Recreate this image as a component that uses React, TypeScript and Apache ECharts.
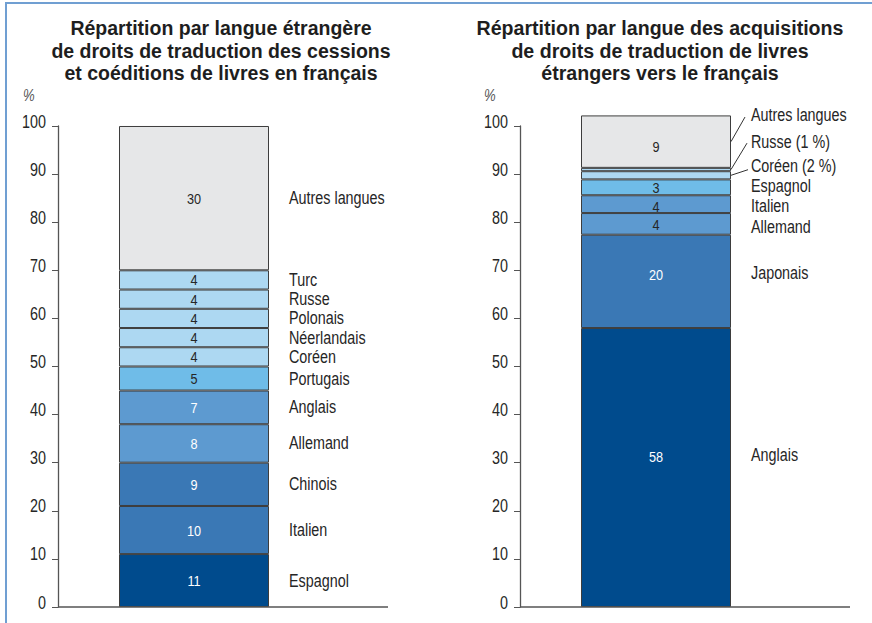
import React, { useEffect, useRef } from 'react';
import * as echarts from 'echarts';

// ---------- data ----------
const leftLanguages = ['Espagnol', 'Italien', 'Chinois', 'Allemand', 'Anglais', 'Portugais', 'Coréen', 'Néerlandais', 'Polonais', 'Russe', 'Turc', 'Autres langues'];
const leftHeights = [11, 10, 9, 8, 7, 5, 4, 4, 4, 4, 4, 30];
const leftValueLabels = ['11', '10', '9', '8', '7', '5', '4', '4', '4', '4', '4', '30'];

const rightLanguages = ['Anglais', 'Japonais', 'Allemand', 'Italien', 'Espagnol', 'Coréen (2 %)', 'Russe (1 %)', 'Autres langues'];
const rightHeights = [58, 19.4, 4.5, 3.7, 3.3, 1.7, 0.7, 10.9];
const rightValueLabels = ['58', '20', '4', '4', '3', '', '', '9'];

const yMin = 0;
const yMax = 100;
const yInterval = 10;
const yTickValues = [0, 10, 20, 30, 40, 50, 60, 70, 80, 90, 100];

const titleLines = [
  ['Répartition par langue étrangère', 'de droits de traduction des cessions', 'et coéditions de livres en français'],
  ['Répartition par langue des acquisitions', 'de droits de traduction de livres', 'étrangers vers le français'],
];

// ---------- styles ----------
const palette = ['#004b8d', '#3a78b5', '#5d9ad0', '#6fbce8', '#add8f2', '#e6e7e8'];
const leftShades = [0, 1, 1, 2, 2, 3, 4, 4, 4, 4, 4, 5];
const rightShades = [0, 1, 2, 2, 3, 4, 4, 5];
const leftWhiteText = [true, true, true, true, true, false, false, false, false, false, false, false];
const rightWhiteText = [true, true, false, false, false, false, false, false];
const leftNameDy = leftLanguages.map(() => 0);
const leftNumDy = leftLanguages.map(() => 0);
const rightNameDy = [-12.7, -8.5, 3, 2, -1.7, -9.6, -27.9, -26.6];
const rightNumDy = [-11, -6.5, 1, 2, 0, 0, 0, 5];
// leader lines for the crowded top labels of the right chart: [index, dx, dyFromLabelCenter]
const leaders: [number, number, number][] = [[5, 17, 4], [6, 16, 1.5], [7, 14, 2]];

const SANS = '"Liberation Sans", Arial, sans-serif';
const NARROW_SCALE = 0.82;
const TITLE_FONT = '"Liberation Sans", Arial, sans-serif';
const TEXT_COLOR = '#262626';
const gridLefts = [58, 520];
const gridTop = 126;
const gridHeight = 481;
const gridWidth = 272;
const baselineLength = 330;
const barWidth = 150;
const titleCenters = [221, 660];
const titleSizes = [19.5, 19.6];
const titleFirstCenterY = 28;
const titleLineStep = 22.5;
const percentX = [23, 484];

function buildSeries(k: number, names: string[], heights: number[], shades: number[]) {
  return names.map((name, i) => ({
    type: 'bar',
    name: name,
    xAxisIndex: k,
    yAxisIndex: k,
    stack: 'v' + k,
    barWidth: barWidth,
    clip: false,
    silent: true,
    z: 2,
    data: [heights[i]],
    itemStyle: { color: palette[shades[i]], borderColor: '#3d3d3d', borderWidth: 1 },
    label: { show: false },
    emphasis: { disabled: true },
  }));
}

function narrowText(x: number, y: number, text: string, size: number, fill: string, align: string, extra: any = {}) {
  return {
    type: 'text',
    x,
    y,
    z: 100,
    scaleX: NARROW_SCALE,
    silent: true,
    style: { text, fill, fontSize: size, fontFamily: SANS, align, verticalAlign: 'middle', ...extra },
  };
}

export default function App() {
  const ref = useRef<HTMLDivElement>(null);
  useEffect(() => {
    if (!ref.current) return;
    const chart = echarts.init(ref.current, null, { renderer: 'svg' });
    const yAxisBase = (k: number) => ({
      type: 'value',
      gridIndex: k,
      min: yMin,
      max: yMax,
      interval: yInterval,
      axisLine: { show: true, lineStyle: { color: '#555', width: 1.3 } },
      axisTick: { show: true, length: 6, lineStyle: { color: '#555', width: 1 } },
      axisLabel: { show: false },
      splitLine: { show: false },
    });
    const xAxisBase = (k: number) => ({
      type: 'category',
      gridIndex: k,
      data: [''],
      axisLine: { show: false },
      axisTick: { show: false },
      axisLabel: { show: false },
    });
    const option: any = {
      animation: false,
      backgroundColor: '#ffffff',
      grid: gridLefts.map((l) => ({ left: l, top: gridTop, width: gridWidth, height: gridHeight, containLabel: false })),
      xAxis: [xAxisBase(0), xAxisBase(1)],
      yAxis: [yAxisBase(0), yAxisBase(1)],
      series: [
        ...buildSeries(0, leftLanguages, leftHeights, leftShades),
        ...buildSeries(1, rightLanguages, rightHeights, rightShades),
      ],
    };
    chart.setOption(option);

    const graphics: any[] = [];
    // frame
    graphics.push({ type: 'line', z: 100, shape: { x1: 6, y1: 3, x2: 872, y2: 3 }, style: { stroke: '#709fd2', lineWidth: 2 }, silent: true });
    graphics.push({ type: 'line', z: 100, shape: { x1: 6, y1: 2, x2: 6, y2: 623 }, style: { stroke: '#709fd2', lineWidth: 2 }, silent: true });

    const charts = [
      { names: leftLanguages, heights: leftHeights, nums: leftValueLabels, white: leftWhiteText, nameDy: leftNameDy, numDy: leftNumDy },
      { names: rightLanguages, heights: rightHeights, nums: rightValueLabels, white: rightWhiteText, nameDy: rightNameDy, numDy: rightNumDy },
    ];

    titleLines.forEach((lines, k) => {
      lines.forEach((line, j) => {
        graphics.push({
          type: 'text',
          x: titleCenters[k],
          y: titleFirstCenterY + j * titleLineStep,
          z: 100,
          silent: true,
          style: { text: line, fill: '#1e1e1e', fontSize: titleSizes[k], fontWeight: 'bold', fontFamily: TITLE_FONT, align: 'center', verticalAlign: 'middle' },
        });
      });
      graphics.push(narrowText(percentX[k], 96, '%', 16, '#555', 'left', { fontStyle: 'italic' }));

      const p0 = chart.convertToPixel({ gridIndex: k } as any, [0, 0]) as number[];
      graphics.push({
        type: 'line',
        z: 50,
        shape: { x1: gridLefts[k], y1: p0[1], x2: gridLefts[k] + baselineLength, y2: p0[1] },
        style: { stroke: '#555', lineWidth: 1.5 },
        silent: true,
      });
      // tick labels
      yTickValues.forEach((v) => {
        const p = chart.convertToPixel({ gridIndex: k } as any, [0, v]) as number[];
        graphics.push(narrowText(gridLefts[k] - 12, p[1] - 4.5, String(v), 17.5, TEXT_COLOR, 'right'));
      });
      // segment labels
      const c = charts[k];
      let acc = 0;
      c.names.forEach((name, i) => {
        const mid = acc + c.heights[i] / 2;
        acc += c.heights[i];
        const p = chart.convertToPixel({ gridIndex: k } as any, [0, mid]) as number[];
        const xr = p[0] + barWidth / 2;
        graphics.push(narrowText(xr + 20, p[1] + c.nameDy[i], name, 17.5, TEXT_COLOR, 'left'));
        if (c.nums[i] !== '') {
          graphics.push(narrowText(p[0], p[1] + c.numDy[i], c.nums[i], 15.5, c.white[i] ? '#ffffff' : TEXT_COLOR, 'center'));
        }
      });
    });

    // leader lines (right chart)
    const cum: number[] = [];
    rightHeights.reduce((a, v, i) => { cum[i] = a; return a + v; }, 0);
    leaders.forEach(([i, dx, dy]) => {
      const mid = cum[i] + rightHeights[i] / 2;
      const p = chart.convertToPixel({ gridIndex: 1 } as any, [0, mid]) as number[];
      const xr = p[0] + barWidth / 2;
      graphics.push({
        type: 'line',
        z: 100,
        shape: { x1: xr, y1: p[1], x2: xr + dx, y2: p[1] + rightNameDy[i] + dy },
        style: { stroke: '#333', lineWidth: 1 },
        silent: true,
      });
    });
    chart.setOption({ graphic: graphics });

    return () => chart.dispose();
  }, []);
  return <div ref={ref} style={{ position: 'fixed', left: 0, top: 0, width: 872, height: 623, background: '#fff' }} />;
}
